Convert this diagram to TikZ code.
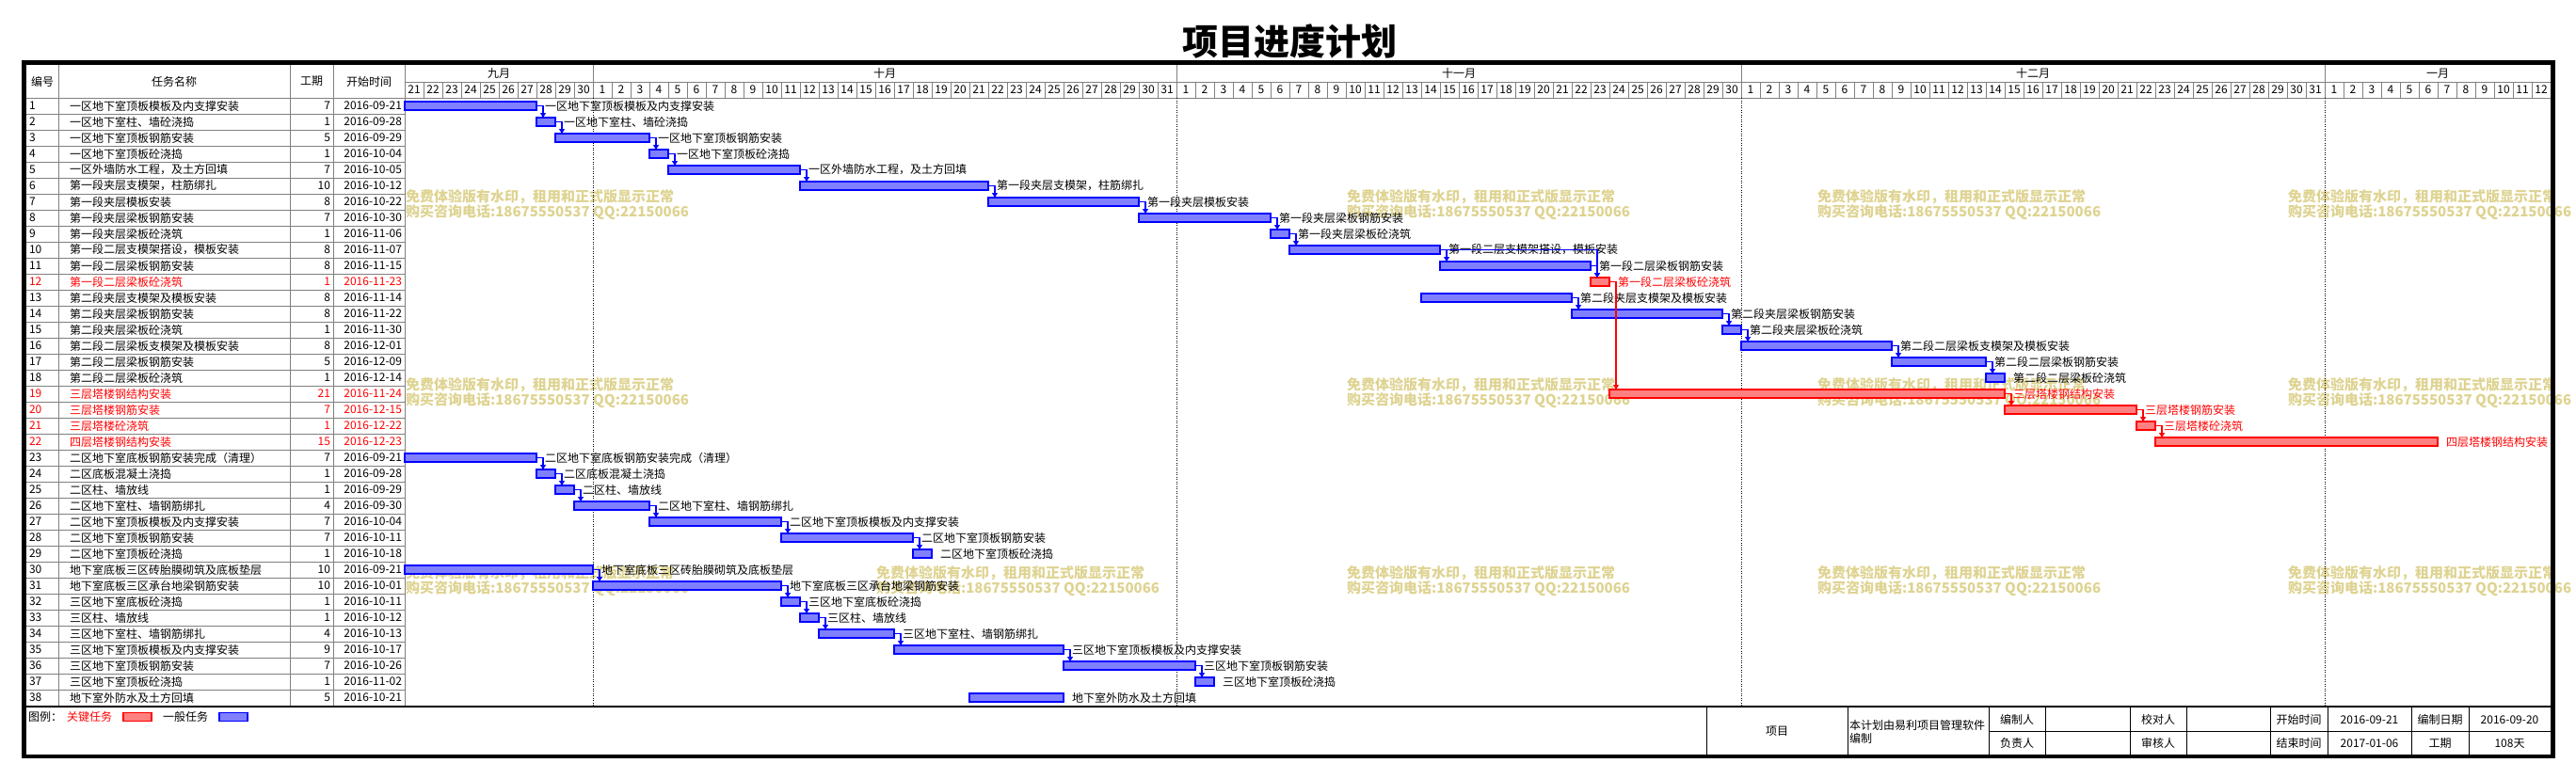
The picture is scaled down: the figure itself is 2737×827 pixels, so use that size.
\documentclass[tikz,border=0pt]{standalone}
\usepackage{fontspec}
\setmainfont{Noto Sans CJK SC}
\usetikzlibrary{arrows.meta}
\definecolor{gridgray}{RGB}{128,128,128}
\definecolor{barblue}{RGB}{128,128,255}
\definecolor{barred}{RGB}{255,128,128}
\definecolor{wmtext}{RGB}{222,211,145}
\tikzset{
  cell/.style={inner sep=0pt, outer sep=0pt, font=\fontsize{12}{14}\selectfont},
  bar/.style={draw=blue, fill=barblue, line width=1.2pt, minimum height=9pt, inner sep=0pt, outer sep=0pt, anchor=west},
  crit/.style={bar, draw=red, fill=barred},
  link/.style={draw=blue, line width=1.2pt, -{Triangle[width=6pt,length=5pt]}},
  critlink/.style={link, draw=red},
  rule/.style={draw=gridgray, line width=1pt},
  wm/.style={cell, text=wmtext, anchor=west, font=\fontsize{15}{17}\selectfont\bfseries},
}
\begin{document}
\begin{tikzpicture}[x=1pt,y=-1pt]
        \useasboundingbox (0,0) rectangle (2737,827);
        \node[cell, font=\fontsize{38}{40}\selectfont\bfseries] (title) at (1370,44) {项目进度计划};

        \foreach \c/\r in {0/0,2/0,3/0,4/0, 0/1,2/1,3/1,4/1, 0/2,1/2,2/2,3/2,4/2} {
            \node[wm] (wa\c\r) at ({431+500*\c},{209+200*\r}) {免费体验版有水印，租用和正式版显示正常};
            \node[wm] (wb\c\r) at ({431+500*\c},{226+200*\r}) {购买咨询电话:18675550537 QQ:22150066};
          }

        % table and calendar
        \foreach \r in {1,...,37} \draw[rule] (28,{104+17*\r}) -- (430,{104+17*\r});
        \foreach \x in {62,308,354,430} \draw[rule] (\x,69) -- (\x,751);
        \draw[rule] (430,87) -- (2710,87);
        \draw[rule] (28,104) -- (2710,104);
        \foreach \d in {1,...,113} \draw[rule] ({430+20*\d},87) -- ({430+20*\d},104);
        \foreach \d in {10,41,71,102} {
          \draw[rule] ({430+20*\d},69) -- ({430+20*\d},87);
          \draw[dash pattern=on 1pt off 1.5pt] ({430+20*\d},104) -- ({430+20*\d},751);
        }
        \node[cell] (hno)   at (45,86.5)  {编号};
        \node[cell] (hname) at (185,86.5) {任务名称};
        \node[cell] (hdur)  at (331,86.5) {工期};
        \node[cell] (hdate) at (392,86.5) {开始时间};
        \foreach \nm/\a/\b in {九月/0/10, 十月/10/41, 十一月/41/71, 十二月/71/102, 一月/102/114}
          \node[cell] (m\a) at ({430+10*(\a+\b)},78) {\nm};
        \foreach \o/\a/\b in {0/21/30, 10/1/31, 41/1/30, 71/1/31, 102/1/12}
          \foreach \d in {\a,...,\b}
            \node[cell] (day\o-\d) at ({440+20*(\o+\d-\a)},95.5) {\d};

        % tasks
        \foreach \i/\nm/\du/\dt/\st/\bs/\cl in {
          1/一区地下室顶板模板及内支撑安装/7/2016-09-21/0/bar/black,
          2/一区地下室柱、墙砼浇捣/1/2016-09-28/7/bar/black,
          3/一区地下室顶板钢筋安装/5/2016-09-29/8/bar/black,
          4/一区地下室顶板砼浇捣/1/2016-10-04/13/bar/black,
          5/一区外墙防水工程，及土方回填/7/2016-10-05/14/bar/black,
          6/第一段夹层支模架，柱筋绑扎/10/2016-10-12/21/bar/black,
          7/第一段夹层模板安装/8/2016-10-22/31/bar/black,
          8/第一段夹层梁板钢筋安装/7/2016-10-30/39/bar/black,
          9/第一段夹层梁板砼浇筑/1/2016-11-06/46/bar/black,
          10/第一段二层支模架搭设，模板安装/8/2016-11-07/47/bar/black,
          11/第一段二层梁板钢筋安装/8/2016-11-15/55/bar/black,
          12/第一段二层梁板砼浇筑/1/2016-11-23/63/crit/red,
          13/第二段夹层支模架及模板安装/8/2016-11-14/54/bar/black,
          14/第二段夹层梁板钢筋安装/8/2016-11-22/62/bar/black,
          15/第二段夹层梁板砼浇筑/1/2016-11-30/70/bar/black,
          16/第二段二层梁板支模架及模板安装/8/2016-12-01/71/bar/black,
          17/第二段二层梁板钢筋安装/5/2016-12-09/79/bar/black,
          18/第二段二层梁板砼浇筑/1/2016-12-14/84/bar/black,
          19/三层塔楼钢结构安装/21/2016-11-24/64/crit/red,
          20/三层塔楼钢筋安装/7/2016-12-15/85/crit/red,
          21/三层塔楼砼浇筑/1/2016-12-22/92/crit/red,
          22/四层塔楼钢结构安装/15/2016-12-23/93/crit/red,
          23/二区地下室底板钢筋安装完成（清理）/7/2016-09-21/0/bar/black,
          24/二区底板混凝土浇捣/1/2016-09-28/7/bar/black,
          25/二区柱、墙放线/1/2016-09-29/8/bar/black,
          26/二区地下室柱、墙钢筋绑扎/4/2016-09-30/9/bar/black,
          27/二区地下室顶板模板及内支撑安装/7/2016-10-04/13/bar/black,
          28/二区地下室顶板钢筋安装/7/2016-10-11/20/bar/black,
          29/二区地下室顶板砼浇捣/1/2016-10-18/27/bar/black,
          30/地下室底板三区砖胎膜砌筑及底板垫层/10/2016-09-21/0/bar/black,
          31/地下室底板三区承台地梁钢筋安装/10/2016-10-01/10/bar/black,
          32/三区地下室底板砼浇捣/1/2016-10-11/20/bar/black,
          33/三区柱、墙放线/1/2016-10-12/21/bar/black,
          34/三区地下室柱、墙钢筋绑扎/4/2016-10-13/22/bar/black,
          35/三区地下室顶板模板及内支撑安装/9/2016-10-17/26/bar/black,
          36/三区地下室顶板钢筋安装/7/2016-10-26/35/bar/black,
          37/三区地下室顶板砼浇捣/1/2016-11-02/42/bar/black,
          38/地下室外防水及土方回填/5/2016-10-21/30/bar/black} {
            \node[cell, text=\cl, anchor=west] (n\i) at (31,{104+17*\i-8.5}) {\i};
            \node[cell, text=\cl, anchor=west] (t\i) at (74,{104+17*\i-8.5}) {\nm};
            \node[cell, text=\cl, anchor=east] (p\i) at (351,{104+17*\i-8.5}) {\du};
            \node[cell, text=\cl, anchor=east] (s\i) at (427,{104+17*\i-8.5}) {\dt};
            \node[\bs, minimum width={20pt*\du}] (b\i) at ({430+20*\st},{104+17*\i-8.5}) {};
            \coordinate (k\i) at ([xshift=7pt]b\i.east);
            \node[cell, text=\cl, anchor=west] (l\i) at ([xshift=9pt]b\i.east) {\nm};
          }

        % links
        \foreach \a/\b in {1/2,2/3,3/4,4/5,5/6,6/7,7/8,8/9,9/10,10/11,11/12,
                           13/14,14/15,15/16,16/17,17/18,
                           23/24,24/25,25/26,26/27,27/28,28/29,
                           30/31,31/32,32/33,33/34,34/35,35/36,36/37}
          \draw[link] (b\a.east) -- (k\a) -- (k\a |- b\b.north);
        \draw[link] (b10.east) -- (k11 |- b10.east) -- (k11 |- b12.north);
        \foreach \a/\b in {12/19,19/20,20/21,21/22}
          \draw[critlink] (b\a.east) -- (k\a) -- (k\a |- b\b.north);

        % frame and footer
        \draw[line width=4.5pt] (25.5,66.5) rectangle (2712.5,804);
        \draw[line width=2pt] (28,751) -- (2710,751);
        \node[cell, anchor=west] (lg) at (30,762) {图例：};
        \node[cell, anchor=west, text=red] (lgcrit) at (71,762) {关键任务};
        \node[crit, minimum width=30pt] (keycrit) at (131,762) {};
        \node[cell, anchor=west] (lgnorm) at (173,762) {一般任务};
        \node[bar, minimum width=30pt] (keynorm) at (233,762) {};

        \foreach \x in {1813,1963,2113,2173,2263,2323,2412,2473,2562,2623}
          \draw[line width=1pt] (\x,751) -- (\x,802);
        \draw[line width=1pt] (2113,777.5) -- (2710,777.5);
        \node[cell] (proj) at (1888,777) {项目};
        \node[cell, anchor=west, align=left] (made) at (1965,778) {本计划由易利项目管理软件\\编制};
        \node[cell] (i1) at (2143,765)   {编制人};
        \node[cell] (i2) at (2293,765)   {校对人};
        \node[cell] (i3) at (2442.5,765) {开始时间};
        \node[cell] (i4) at (2517.5,765) {2016-09-21};
        \node[cell] (i5) at (2592.5,765) {编制日期};
        \node[cell] (i6) at (2666.5,765) {2016-09-20};
        \node[cell] (j1) at (2143,790)   {负责人};
        \node[cell] (j2) at (2293,790)   {审核人};
        \node[cell] (j3) at (2442.5,790) {结束时间};
        \node[cell] (j4) at (2517.5,790) {2017-01-06};
        \node[cell] (j5) at (2592.5,790) {工期};
        \node[cell] (j6) at (2666.5,790) {108天};
\end{tikzpicture}
\end{document}
